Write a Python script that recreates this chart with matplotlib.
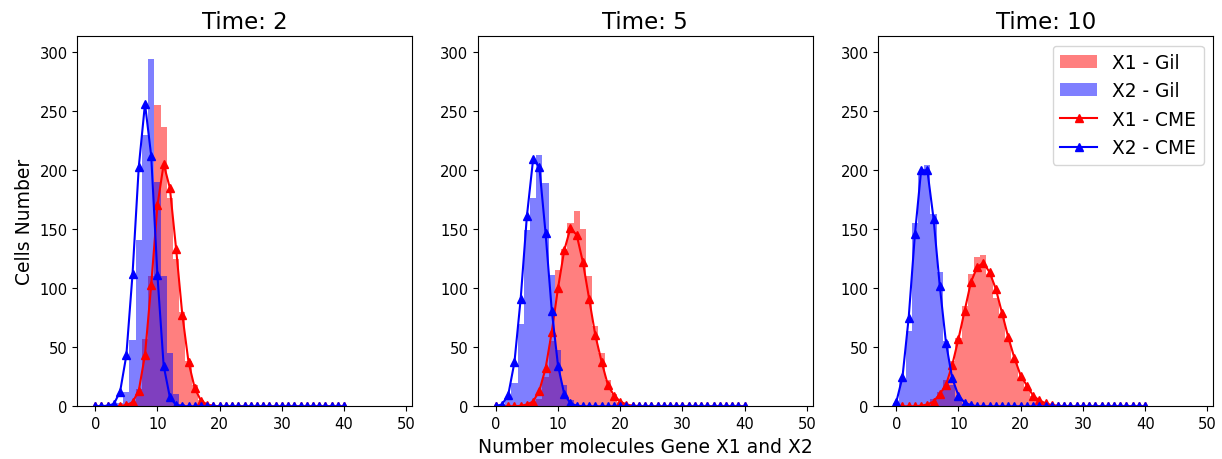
import numpy as np
import matplotlib
matplotlib.use('Agg')
import matplotlib.pyplot as plt

# === DATOS ===
times = [2, 5, 10]
n_cme = np.arange(41)

cme_x1_t2 = [0, 0, 0, 0, 0.3, 1, 3.4, 13.2, 43.5, 102.8, 170, 205, 184.7, 133.3, 77.4,
             37.3, 15.2, 4.7, 1.5, 0.4] + [0] * 21
cme_x2_t2 = [0, 0.1, 0.5, 2, 12.4, 43, 112, 202.5, 256, 212, 110.7, 34.4, 7.6, 1,
             0.2] + [0] * 26
cme_x1_t5 = [0, 0, 0, 0, 0.4, 1.5, 4, 13.2, 32, 63, 100, 131.9, 150.8, 145, 122, 91,
             60, 37.8, 18.3, 9, 4, 1.5, 0.5, 0.2] + [0] * 17
cme_x2_t5 = [0.2, 1.5, 9.6, 37.3, 90.9, 161, 209, 202.5, 146.6, 81, 34.4, 10.4, 2.5,
             0.5] + [0] * 27
cme_x1_t10 = [0, 0, 0, 0, 0.5, 1.5, 4, 10.4, 18, 35, 57, 81, 105, 117.8, 121.4, 113.5,
              99.4, 79, 58.5, 40.7, 26, 17.5, 9, 5, 2.5, 1, 0.5] + [0] * 14
cme_x2_t10 = [3.4, 24.6, 74.8, 145.4, 199.7, 199.7, 158.7, 101.7, 53.5, 23.7, 9, 3,
              1] + [0] * 28

# Gillespie: numero de moleculas y numero de celdas
gil_x1_t2_n = list(range(6, 19))
gil_x1_t2 = [3, 15, 57, 110, 255, 236, 176, 125, 80, 38, 18, 5, 2]
gil_x2_t2_n = list(range(3, 15))
gil_x2_t2 = [1, 3, 12, 56, 141, 230, 294, 190, 110, 45, 10, 2]
gil_x1_t5_n = list(range(6, 22))
gil_x1_t5 = [1, 6, 25, 55, 115, 133, 155, 165, 150, 110, 68, 45, 22, 10, 4, 1]
gil_x2_t5_n = list(range(1, 14))
gil_x2_t5 = [1, 5, 20, 70, 149, 176, 213, 189, 111, 48, 18, 5, 1]
gil_x1_t10_n = list(range(4, 26))
gil_x1_t10 = [1, 2, 6, 12, 22, 38, 58, 85, 112, 126, 128, 112, 92, 78, 55, 38, 24, 16,
              9, 5, 2, 1]
gil_x2_t10_n = list(range(0, 12))
gil_x2_t10 = [3, 22, 64, 155, 197, 204, 163, 114, 55, 18, 7, 2]

cme_x1 = [cme_x1_t2, cme_x1_t5, cme_x1_t10]
cme_x2 = [cme_x2_t2, cme_x2_t5, cme_x2_t10]
gil_x1 = [(gil_x1_t2_n, gil_x1_t2), (gil_x1_t5_n, gil_x1_t5), (gil_x1_t10_n, gil_x1_t10)]
gil_x2 = [(gil_x2_t2_n, gil_x2_t2), (gil_x2_t5_n, gil_x2_t5), (gil_x2_t10_n, gil_x2_t10)]

# === GRAFICAR ===
fig = plt.figure(figsize=(12.22, 4.6), dpi=100)
lefts = [0.0634, 0.3912, 0.7189]
axes = []
for i, t in enumerate(times):
    ax = fig.add_axes([lefts[i], 0.1146, 0.2737, 0.804],
                      sharey=axes[0] if axes else None)
    axes.append(ax)

    n1, c1 = gil_x1[i]
    n2, c2 = gil_x2[i]
    h1 = ax.hist(n1, bins=np.arange(n1[0] - 0.5, n1[-1] + 1.5), weights=c1,
                 color='red', alpha=0.5, label='X1 - Gil')[2]
    h2 = ax.hist(n2, bins=np.arange(n2[0] - 0.5, n2[-1] + 1.5), weights=c2,
                 color='blue', alpha=0.5, label='X2 - Gil')[2]
    l1, = ax.plot(n_cme, cme_x1[i], '-^', color='red', ms=6, label='X1 - CME')
    l2, = ax.plot(n_cme, cme_x2[i], '-^', color='blue', ms=6, label='X2 - CME')

    ax.set_title(f'Time: {t}', fontsize=16.5)
    ax.set_xlim(-2.85, 50.9)
    ax.set_ylim(0, 313)
    ax.set_xticks(range(0, 51, 10))
    ax.set_yticks(range(0, 301, 50))
    ax.tick_params(labelsize=10.6, labelleft=True)

axes[0].set_ylabel('Cells Number', fontsize=13.5)
axes[1].set_xlabel('Number molecules Gene X1 and X2', fontsize=13.5)
axes[2].legend([h1[0], h2[0], l1, l2], ['X1 - Gil', 'X2 - Gil', 'X1 - CME', 'X2 - CME'],
               loc='upper right', fontsize=13.4)

fig.savefig('out.png', dpi=100)
